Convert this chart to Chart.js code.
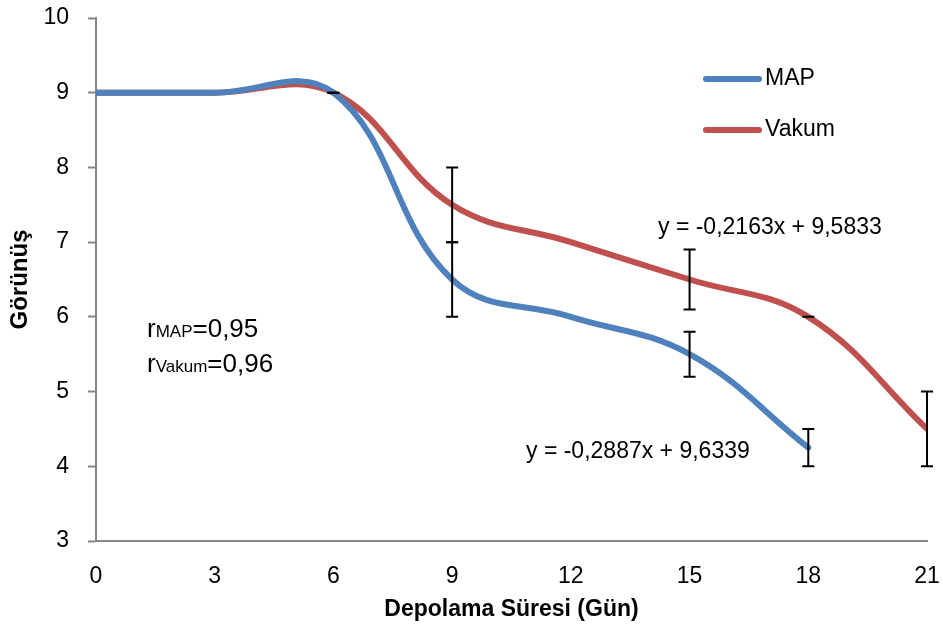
<!DOCTYPE html>
<html>
<head>
<meta charset="utf-8">
<script src="https://cdn.jsdelivr.net/npm/chart.js@4"></script>
<style>
  html, body { margin: 0; padding: 0; background: #fff; }
  #wrap { width: 943px; height: 630px; }
</style>
</head>
<body>
<div id="wrap"><canvas id="chart" width="943" height="630"></canvas></div>
<script>
const days = [0, 3, 6, 9, 12, 15, 18, 21];
const mapValues = [9, 9, 9, 6.5, 6, 5.5, 4.25];
const vakumValues = [9, 9, 9, 7.5, 7, 6.5, 6, 4.5];
const mapErrors = [null, null, 0, 0.5, null, 0.3, 0.25];
const vakumErrors = [null, null, 0, 0.5, null, 0.4, 0, 0.5];
const xTicks = [0, 3, 6, 9, 12, 15, 18, 21];
const yTicks = [3, 4, 5, 6, 7, 8, 9, 10];

const FONT = "'Liberation Sans', Arial, sans-serif";
const BLUE = '#4F81BD';
const RED = '#C0504D';

const toPoints = (vals) => vals.map((v, i) => ({ x: days[i], y: v }));

// error bars, legend and text notes
const extras = {
  id: 'extras',
  afterDatasetsDraw(chart) {
    const ctx = chart.ctx;
    const xs = chart.scales.x;
    const ys = chart.scales.y;
    ctx.save();
    ctx.strokeStyle = '#000';
    ctx.lineWidth = 2;
    [[mapValues, mapErrors], [vakumValues, vakumErrors]].forEach(([vals, errs]) => {
      errs.forEach((e, i) => {
        if (e === null) return;
        const px = xs.getPixelForValue(days[i]);
        const top = ys.getPixelForValue(vals[i] + e);
        const bot = ys.getPixelForValue(vals[i] - e);
        ctx.beginPath();
        ctx.moveTo(px, top); ctx.lineTo(px, bot);
        ctx.moveTo(px - 6, top); ctx.lineTo(px + 6, top);
        ctx.moveTo(px - 6, bot); ctx.lineTo(px + 6, bot);
        ctx.stroke();
      });
    });

    // legend
    ctx.lineCap = 'round';
    ctx.lineWidth = 6;
    ctx.font = '23px ' + FONT;
    ctx.textBaseline = 'middle';
    ctx.fillStyle = '#000';
    [['MAP', BLUE, 79], ['Vakum', RED, 130]].forEach(([label, col, y]) => {
      ctx.strokeStyle = col;
      ctx.beginPath();
      ctx.moveTo(706, y); ctx.lineTo(759, y);
      ctx.stroke();
      ctx.fillText(label, 765, y);
    });

    // regression equations
    ctx.fillText('y = -0,2163x + 9,5833', 658, 228);
    ctx.fillText('y = -0,2887x + 9,6339', 526, 452);

    // correlation notes
    ctx.textBaseline = 'alphabetic';
    const note = (sub, val, x, y) => {
      ctx.font = '26px ' + FONT;
      ctx.fillText('r', x, y);
      let w = ctx.measureText('r').width;
      ctx.font = '17px ' + FONT;
      ctx.fillText(sub, x + w, y);
      w += ctx.measureText(sub).width;
      ctx.font = '26px ' + FONT;
      ctx.fillText(val, x + w, y);
    };
    note('MAP', '=0,95', 147, 337);
    note('Vakum', '=0,96', 147, 372);
    ctx.restore();
  }
};

new Chart(document.getElementById('chart'), {
  type: 'scatter',
  data: {
    datasets: [
      {
        label: 'MAP',
        data: toPoints(mapValues),
        showLine: true,
        borderColor: BLUE,
        borderWidth: 6,
        pointRadius: 0,
        tension: 0.4,
        borderCapStyle: 'round'
      },
      {
        label: 'Vakum',
        data: toPoints(vakumValues),
        showLine: true,
        borderColor: RED,
        borderWidth: 6,
        pointRadius: 0,
        tension: 0.4,
        borderCapStyle: 'round'
      }
    ]
  },
  options: {
    responsive: false,
    animation: false,
    layout: { padding: { top: 18, right: 16, left: 0, bottom: 0 } },
    plugins: {
      legend: { display: false },
      tooltip: { enabled: false }
    },
    scales: {
      x: {
        type: 'linear',
        min: 0,
        max: 21,
        afterBuildTicks: (s) => { s.ticks = xTicks.map(v => ({ value: v })); },
        afterFit: (s) => { s.height = 89; s.paddingLeft = 0; s.paddingRight = 0; },
        grid: { display: true, drawOnChartArea: false, drawTicks: false },
        border: { display: true, color: '#868686', width: 2 },
        ticks: { color: '#000', font: { size: 23, family: FONT }, padding: 22 },
        title: {
          display: true,
          text: 'Depolama Süresi (Gün)',
          color: '#000',
          font: { size: 23, weight: 'bold', family: FONT },
          padding: { top: 0, bottom: 7 }
        }
      },
      y: {
        min: 3,
        max: 10,
        afterBuildTicks: (s) => { s.ticks = yTicks.map(v => ({ value: v })); },
        afterFit: (s) => { s.width = 96; s.paddingTop = 0; s.paddingBottom = 0; },
        grid: { display: true, drawOnChartArea: false, tickLength: 8, color: '#868686', tickWidth: 2 },
        border: { display: true, color: '#868686', width: 2 },
        ticks: { color: '#000', font: { size: 23, family: FONT }, padding: 19 },
        title: {
          display: true,
          text: 'Görünüş',
          color: '#000',
          font: { size: 24, weight: 'bold', family: FONT },
          padding: { top: 6, bottom: 0 }
        }
      }
    }
  },
  plugins: [extras]
});
</script>
</body>
</html>
